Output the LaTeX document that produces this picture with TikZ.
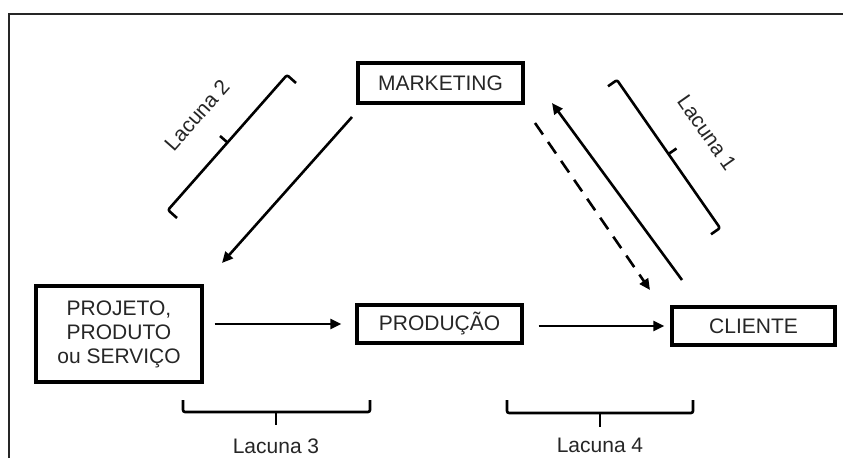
\documentclass[tikz,border=0pt]{standalone}
\usepackage{fontspec}
\setmainfont{Liberation Sans}
\usetikzlibrary{arrows.meta}
\begin{document}
\begin{tikzpicture}[x=1pt,y=1pt,
  box/.style={draw=black, line width=3.2pt, minimum width=#1, inner sep=0pt, font=\fontsize{21}{24}\selectfont, text=black!85},
  arr/.style={line width=2.6pt, -{Triangle[length=11pt,width=10pt]}},
  brk/.style={line width=2.6pt, line join=round, rounded corners=2pt},
  lbl/.style={font=\fontsize{21}{24}\selectfont, text=black!85, inner sep=0pt}]
\useasboundingbox (0,0) rectangle (843,458);
\fill[white] (0,0) rectangle (843,458);
% frame
\draw[line width=2pt, black!85] (9,0) -- (9,444) -- (843,444);
% nodes
\node[box=165pt, minimum height=40pt] (mkt) at (440.5,375) {MARKETING};
\node[box=166pt, minimum height=96pt, align=center] (proj) at (119,124) {PROJETO,\\PRODUTO\\ou SERVIÇO};
\node[box=165pt, minimum height=38pt] (prod) at (439.5,134) {PRODUÇÃO};
\node[box=163pt, minimum height=38pt] (cli) at (753.5,132) {CLIENTE};
% horizontal arrows
\draw[arr] ([xshift=11pt]proj.east |- prod.west) -- ([xshift=-14pt]prod.west);
\draw[arr] ([xshift=15pt]prod.east |- cli.west) -- ([xshift=-6pt]cli.west);
% diagonal arrows
\coordinate (a1s) at (352,341);
\coordinate (a1e) at (222,195);
\draw[arr] (a1s) -- (a1e);
\coordinate (a2s) at (682,178);
\coordinate (a2e) at (552,355);
\draw[arr] (a2s) -- (a2e);
\coordinate (a3s) at (535,335);
\coordinate (a3e) at (650,168);
\draw[arr, dash pattern=on 14pt off 9pt] (a3s) -- (a3e);
% Lacuna 2 bracket
\draw[brk] (296,375) -- (287,383) -- (168,248) -- (177,240);
\draw[brk] (227.5,315.5) -- (220,322);
\node[lbl, rotate=48.6] (l2) at (197,343) {Lacuna 2};
% Lacuna 1 bracket
\draw[brk] (608,371.7) -- (617,378) -- (720,230) -- (711,223.7);
\draw[brk] (668.5,304) -- (676.5,309.5);
\node[lbl, rotate=-55] (l1) at (707,325) {Lacuna 1};
% Lacuna 3 brace
\draw[brk] (183,58) -- (183,46) -- (370,46) -- (370,58);
\draw[line width=2.6pt] (276,46) -- (276,33);
\node[lbl, anchor=base] (l3) at (276,5) {Lacuna 3};
% Lacuna 4 brace
\draw[brk] (507,58) -- (507,45) -- (693,45) -- (693,58);
\draw[line width=2.6pt] (600,45) -- (600,31);
\node[lbl, anchor=base] (l4) at (600,6) {Lacuna 4};
\end{tikzpicture}
\end{document}
